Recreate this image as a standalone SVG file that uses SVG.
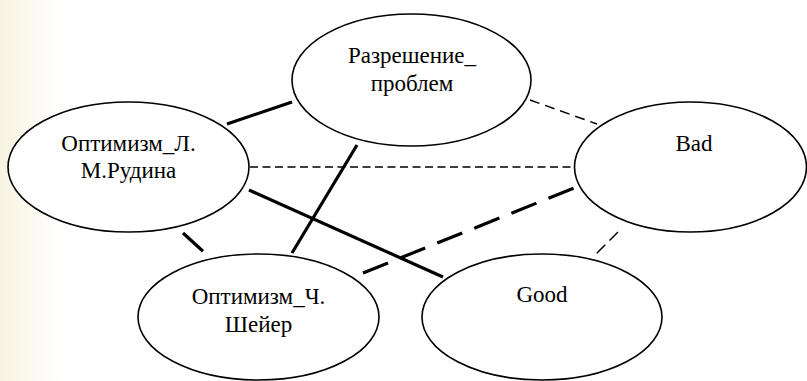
<svg xmlns="http://www.w3.org/2000/svg" width="807" height="381" viewBox="0 0 807 381">
  <defs>
    <linearGradient id="bg" x1="0" y1="0" x2="807" y2="0" gradientUnits="userSpaceOnUse">
      <stop offset="0" stop-color="#f8f3e0"/>
      <stop offset="0.03" stop-color="#fbf8ee"/>
      <stop offset="0.08" stop-color="#ffffff"/>
      <stop offset="1" stop-color="#ffffff"/>
    </linearGradient>
  </defs>
  <style>
    .node ellipse { fill: #ffffff; stroke: #000000; stroke-width: 1.6; }
    .thick { stroke: #000000; stroke-width: 3.2; fill: none; }
    .thickdash { stroke: #000000; stroke-width: 3.2; fill: none; stroke-dasharray: 27 13; }
    .thindash { stroke: #000000; stroke-width: 1.5; fill: none; stroke-dasharray: 9 5; }
  </style>
  <rect x="0" y="0" width="807" height="381" fill="url(#bg)"/>

  <g id="connectors">
    <line class="thick" x1="227" y1="124" x2="292" y2="102"/>
    <line class="thindash" x1="250" y1="167" x2="574" y2="167" style="stroke-dasharray: 8 4.5"/>
    <line class="thindash" x1="530" y1="100" x2="597" y2="124" style="stroke-dasharray: 10 6"/>
    <line class="thick" x1="357" y1="145" x2="292" y2="253"/>
    <line class="thick" x1="249" y1="190" x2="443" y2="277"/>
    <line class="thickdash" x1="175.6" y1="226.3" x2="214.2" y2="261.4" style="stroke-dashoffset: 30"/>
    <line class="thickdash" x1="363" y1="273" x2="574" y2="188"/>
    <line class="thindash" x1="618" y1="232" x2="596" y2="254" style="stroke-dasharray: 12 6"/>
  </g>

  <g font-family="Liberation Serif, Times New Roman, serif" font-size="23" fill="#000000" text-anchor="middle">
    <g id="node-razreshenie" class="node">
      <ellipse cx="411.5" cy="80" rx="119.5" ry="66"/>
      <text x="412" y="63">Разрешение_</text>
      <text x="412" y="91">проблем</text>
    </g>

    <g id="node-rudina" class="node">
      <ellipse cx="128.5" cy="167" rx="120.5" ry="65"/>
      <text x="128.5" y="150.5">Оптимизм_Л.</text>
      <text x="128.5" y="178">М.Рудина</text>
    </g>

    <g id="node-bad" class="node">
      <ellipse cx="690.5" cy="167" rx="116" ry="65"/>
      <text x="694" y="150.5">Bad</text>
    </g>

    <g id="node-sheier" class="node">
      <ellipse cx="258.5" cy="317" rx="120.5" ry="63"/>
      <text x="258.5" y="304">Оптимизм_Ч.</text>
      <text x="258.5" y="332">Шейер</text>
    </g>

    <g id="node-good" class="node">
      <ellipse cx="542" cy="317" rx="120" ry="63"/>
      <text x="542" y="302">Good</text>
    </g>
  </g>
</svg>
